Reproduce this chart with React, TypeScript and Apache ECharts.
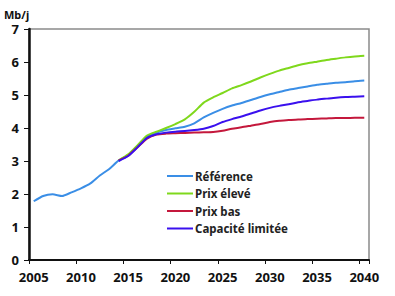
import React, { useEffect, useRef } from "react";
import * as echarts from "echarts";

const years: string[] = [];
for (let y = 2005; y <= 2040; y++) years.push(String(y));

const reference = [
  1.78, 1.94, 1.99, 1.94, 2.05, 2.17, 2.32, 2.56, 2.76, 3.02, 3.18, 3.46,
  3.74, 3.86, 3.94, 3.99, 4.04, 4.14, 4.32, 4.46, 4.58, 4.68, 4.76, 4.85,
  4.94, 5.02, 5.09, 5.16, 5.21, 5.26, 5.31, 5.34, 5.37, 5.39, 5.42, 5.44,
];
const scenarioStart = 2014;
const prixEleve = [
  3.02, 3.2, 3.48, 3.77, 3.89, 4.0, 4.12, 4.26, 4.49, 4.77, 4.93, 5.06, 5.2,
  5.3, 5.41, 5.53, 5.64, 5.74, 5.82, 5.9, 5.96, 6.01, 6.06, 6.1, 6.14, 6.17,
  6.19,
];
const prixBas = [
  3.02, 3.16, 3.42, 3.68, 3.8, 3.83, 3.84, 3.85, 3.86, 3.87, 3.88, 3.92, 3.98,
  4.02, 4.07, 4.12, 4.18, 4.22, 4.24, 4.26, 4.27, 4.28, 4.29, 4.3, 4.3, 4.31,
  4.31,
];
const capaciteLimitee = [
  3.0, 3.15, 3.42, 3.7, 3.81, 3.86, 3.89, 3.91, 3.94, 3.98, 4.06, 4.18, 4.27,
  4.35, 4.44, 4.53, 4.61, 4.67, 4.72, 4.78, 4.82, 4.86, 4.89, 4.92, 4.94, 4.95,
  4.96,
];
const seriesNames = ["Référence", "Prix élevé", "Prix bas", "Capacité limitée"];
const colors = ["#3a8ee6", "#7fd81c", "#c4183c", "#3a10ee"];

const pad = (arr: number[]) => {
  const n = scenarioStart - 2005;
  return [...Array(n).fill(null), ...arr];
};

export default function App() {
  const ref = useRef<HTMLDivElement>(null);
  useEffect(() => {
    if (!ref.current) return;
    const chart = echarts.init(ref.current, null, { renderer: "svg" });
    const font = "Noto Sans";
    const dataSets = [reference, pad(prixEleve), pad(prixBas), pad(capaciteLimitee)];
    chart.setOption({
      animation: false,
      title: {
        text: "Mb/j",
        left: 4,
        top: 8,
        padding: 0,
        textStyle: { fontFamily: font, fontSize: 11, lineHeight: 12, fontWeight: "bold", color: "#111" },
      },
      grid: {
        left: 29,
        top: 29,
        right: 26,
        bottom: 36,
        show: true,
        borderColor: "#8a8a8a",
        borderWidth: 1.5,
      },
      legend: {
        orient: "vertical",
        left: 167,
        top: 170,
        padding: 0,
        icon: "rect",
        itemWidth: 26,
        itemHeight: 2,
        itemGap: 5.5,
        data: seriesNames,
        textStyle: {
          fontFamily: font,
          fontSize: 11.5,
          lineHeight: 12,
          fontWeight: "bold",
          color: "#222",
          padding: [0, 0, 0, -3],
        },
      },
      xAxis: {
        type: "category",
        data: years,
        boundaryGap: true,
        axisLine: { show: true, lineStyle: { color: "#111", width: 2 } },
        axisTick: { show: true, interval: 4, length: 4, lineStyle: { color: "#111", width: 1 } },
        axisLabel: {
          interval: 4,
          margin: 10,
          fontFamily: font,
          fontSize: 13,
          fontWeight: "bold",
          color: "#111",
        },
        splitLine: { show: false },
      },
      yAxis: {
        type: "value",
        min: 0,
        max: 7,
        interval: 1,
        axisLine: { show: true, lineStyle: { color: "#111", width: 2.5 } },
        axisTick: { show: true, length: 5, lineStyle: { color: "#111", width: 1 } },
        axisLabel: {
          margin: 10,
          fontFamily: font,
          fontSize: 13,
          lineHeight: 13,
          fontWeight: "bold",
          color: "#111",
        },
        splitLine: { show: false },
      },
      series: seriesNames.map((name, i) => ({
        name,
        type: "line",
        data: dataSets[i],
        symbol: "none",
        smooth: 0.2,
        color: colors[i],
        lineStyle: { width: 2, color: colors[i] },
      })),
    });
    return () => chart.dispose();
  }, []);
  return <div ref={ref} style={{ width: 395, height: 296, position: "absolute", left: 0, top: 0 }} />;
}
